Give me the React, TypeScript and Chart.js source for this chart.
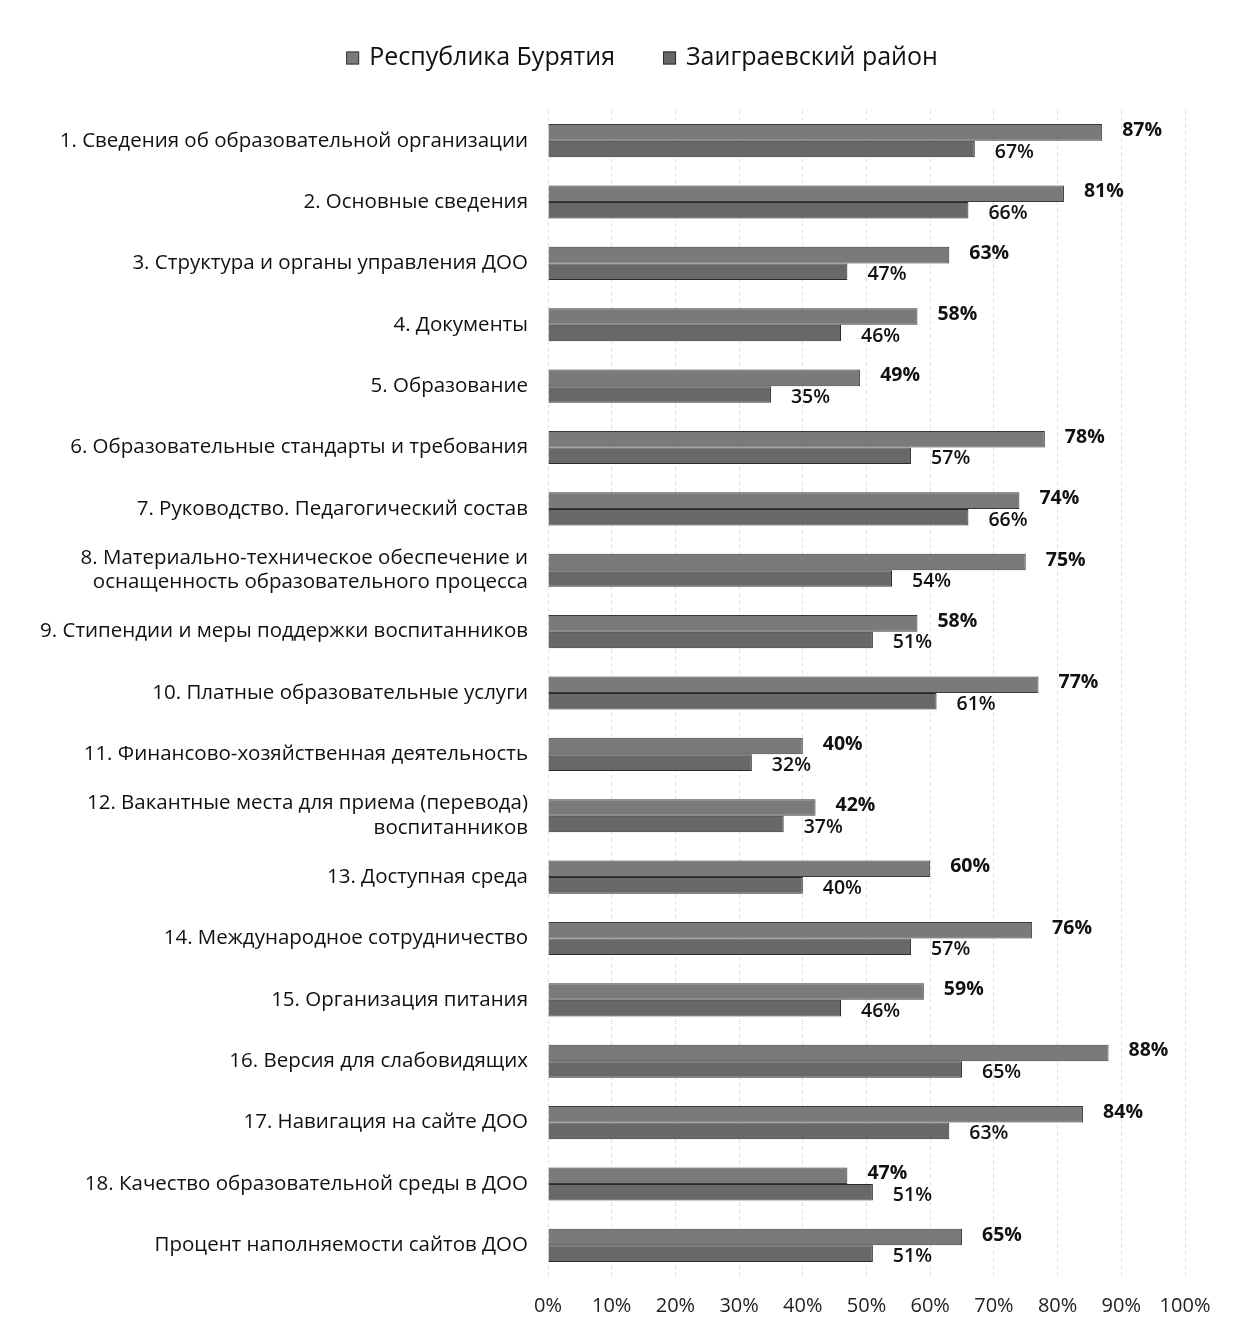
import React, { useEffect, useRef } from "react";
import { Chart, registerables } from "chart.js";

Chart.register(...registerables);

const categories: (string | string[])[] = [
  "1. Сведения об образовательной организации",
  "2. Основные сведения",
  "3. Структура и органы управления ДОО",
  "4. Документы",
  "5. Образование",
  "6. Образовательные стандарты и требования",
  "7. Руководство. Педагогический состав",
  ["8. Материально-техническое обеспечение и", "оснащенность образовательного процесса"],
  "9. Стипендии и меры поддержки воспитанников",
  "10. Платные образовательные услуги",
  "11. Финансово-хозяйственная деятельность",
  ["12. Вакантные места для приема (перевода)", "воспитанников"],
  "13. Доступная среда",
  "14. Международное сотрудничество",
  "15. Организация питания",
  "16. Версия для слабовидящих",
  "17. Навигация на сайте ДОО",
  "18. Качество образовательной среды в ДОО",
  "Процент наполняемости сайтов ДОО",
];

const buryatia = [87, 81, 63, 58, 49, 78, 74, 75, 58, 77, 40, 42, 60, 76, 59, 88, 84, 47, 65];
const zaigraevsky = [67, 66, 47, 46, 35, 57, 66, 54, 51, 61, 32, 37, 40, 57, 46, 65, 63, 51, 51];

const seriesNames = ["Республика Бурятия", "Заиграевский район"];
const xTicks = [0, 10, 20, 30, 40, 50, 60, 70, 80, 90, 100];

const FONT = "'Open Sans', 'Noto Sans', sans-serif";

const valueLabels = {
  id: "valueLabels",
  afterDatasetsDraw(chart: any) {
    const ctx = chart.ctx;
    ctx.save();
    chart.data.datasets.forEach((ds: any, di: number) => {
      const meta = chart.getDatasetMeta(di);
      meta.data.forEach((bar: any, i: number) => {
        const v = ds.data[i];
        ctx.font = di === 0 ? `bold 19.5px ${FONT}` : `600 19.5px ${FONT}`;
        ctx.fillStyle = "#111";
        ctx.textAlign = "left";
        ctx.textBaseline = "middle";
        ctx.fillText(`${v}%`, bar.x + 20, bar.y + (di === 0 ? -2 : 3));
      });
    });
    ctx.restore();
  },
};

// custom legend, centred a little right of the canvas centre as in the reference
const topLegend = {
  id: "topLegend",
  afterDraw(chart: any) {
    const ctx = chart.ctx;
    ctx.save();
    ctx.font = `25px ${FONT}`;
    ctx.textBaseline = "middle";
    ctx.textAlign = "left";
    const box = 13;
    const gapBox = 10;
    const gapItems = 48;
    const items = chart.data.datasets.map((ds: any) => ({
      text: ds.label,
      color: ds.backgroundColor,
      border: ds.borderColor,
      w: box + gapBox + ctx.measureText(ds.label).width,
    }));
    const total = items.reduce((s: number, it: any) => s + it.w, 0) + gapItems * (items.length - 1);
    let x = 642 - total / 2;
    const y = 58;
    items.forEach((it: any) => {
      ctx.fillStyle = it.color;
      ctx.strokeStyle = it.border;
      ctx.lineWidth = 1;
      ctx.fillRect(x, y - box / 2, box, box);
      ctx.strokeRect(x + 0.5, y - box / 2 + 0.5, box - 1, box - 1);
      ctx.fillStyle = "#111";
      ctx.fillText(it.text, x + box + gapBox, y);
      x += it.w + gapItems;
    });
    ctx.restore();
  },
};

export default function App() {
  const ref = useRef<HTMLCanvasElement | null>(null);
  useEffect(() => {
    if (!ref.current) return;
    const chart = new Chart(ref.current, {
      type: "bar",
      data: {
        labels: categories,
        datasets: [
          {
            label: seriesNames[0],
            data: buryatia,
            backgroundColor: "#7a7a7a",
            borderColor: "#3a3a3a",
            borderWidth: 1,
            categoryPercentage: 0.54,
            barPercentage: 1,
          },
          {
            label: seriesNames[1],
            data: zaigraevsky,
            backgroundColor: "#686868",
            borderColor: "#2a2a2a",
            borderWidth: 1,
            categoryPercentage: 0.54,
            barPercentage: 1,
          },
        ],
      },
      options: {
        indexAxis: "y",
        animation: false,
        responsive: false,
        layout: { padding: { top: 110, right: 56, bottom: 0, left: 10 } },
        plugins: {
          tooltip: { enabled: false },
          legend: { display: false },
        },
        scales: {
          x: {
            min: 0,
            max: 100,
            afterBuildTicks: (axis: any) => {
              axis.ticks = xTicks.map((v) => ({ value: v }));
            },
            ticks: {
              callback: (v: any) => `${v}%`,
              color: "#222",
              font: { family: FONT, size: 20 },
              padding: 18,
            },
            grid: { color: "#e2e2e2", lineWidth: 1, drawTicks: false },
            border: { display: false, dash: [4, 3] },
          },
          y: {
            afterFit: (axis: any) => {
              axis.width = 538;
            },
            ticks: {
              color: "#111",
              font: { family: FONT, size: 20.5 },
              padding: 12,
            },
            grid: { display: false },
            border: { display: false },
          },
        },
      },
      plugins: [valueLabels, topLegend],
    });
    return () => chart.destroy();
  }, []);
  return (
    <div style={{ position: "fixed", left: 0, top: 0, width: 1241, height: 1336, background: "#fff" }}>
      <canvas ref={ref} width={1241} height={1336} style={{ width: 1241, height: 1336 }} />
    </div>
  );
}
